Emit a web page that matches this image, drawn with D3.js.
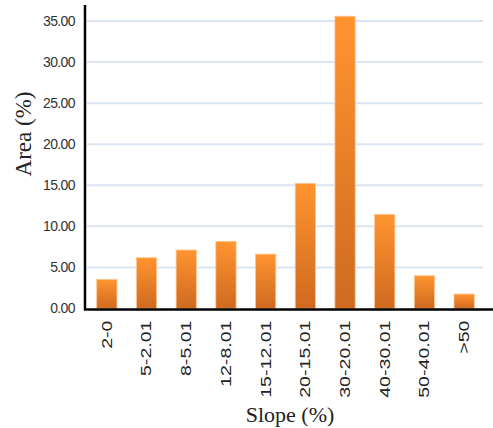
<!DOCTYPE html>
<html><head><meta charset="utf-8">
<script src="https://cdn.jsdelivr.net/npm/d3@7/dist/d3.min.js"></script>
<style>body{margin:0;background:#fff}svg{display:block}</style>
</head><body>
<svg id="c" width="493" height="428"></svg>
<script>
const categories = ["2-0","5-2.01","8-5.01","12-8.01","15-12.01","20-15.01","30-20.01","40-30.01","50-40.01",">50"];
const areaValues = [3.55, 6.18, 7.12, 8.18, 6.62, 15.23, 35.58, 11.46, 3.99, 1.76];
const yTicks = [0, 5, 10, 15, 20, 25, 30, 35];
const yTitle = "Area (%)";
const xTitle = "Slope (%)";

(function(){
const svg = d3.select("#c");
const mLeft = 85, mTop = 21, mBottom = 308.5;
const yMaxTick = 35;

const x = d3.scaleBand().domain(categories).range([87, 484]).paddingInner(0.49).paddingOuter(0.245);
const y = d3.scaleLinear().domain([0, yMaxTick]).range([mBottom, mTop]);

const defs = svg.append("defs");
const g = defs.append("linearGradient").attr("id","bg").attr("x1",0).attr("y1",0).attr("x2",0).attr("y2",1);
g.append("stop").attr("offset","0%").attr("stop-color","#ff9430");
g.append("stop").attr("offset","100%").attr("stop-color","#cf6a20");

// gridlines
svg.append("g").selectAll("line").data(yTicks.filter(d=>d>0)).join("line")
  .attr("x1", mLeft+2).attr("x2", 483)
  .attr("y1", d=>y(d)).attr("y2", d=>y(d))
  .attr("stroke","#d9e5f3").attr("stroke-width",2);

// bars
svg.append("g").selectAll("rect").data(areaValues).join("rect")
  .attr("x",(d,i)=>x(categories[i]))
  .attr("width", x.bandwidth())
  .attr("y", d=>y(d))
  .attr("height", d=>mBottom - y(d))
  .attr("fill","url(#bg)")
  .attr("stroke","#ffc58f").attr("stroke-width",0.8);

// y axis
const yAxis = d3.axisLeft(y).tickValues(yTicks).tickFormat(d3.format(".2f")).tickSize(0).tickPadding(10);
const ya = svg.append("g").attr("transform",`translate(${mLeft},0)`).call(yAxis);
ya.select(".domain").remove();
ya.selectAll("text").attr("font-family","'Liberation Sans', Arial, sans-serif").attr("font-size",14)
  .attr("letter-spacing","-0.6px").attr("fill","#333");

// x axis
const stretch = 1.4;
const xAxis = d3.axisBottom(x).tickSize(0).tickPadding(0);
const xa = svg.append("g").attr("transform",`translate(0,${mBottom})`).call(xAxis);
xa.select(".domain").remove();
xa.selectAll("text")
  .attr("font-family","'Liberation Sans', Arial, sans-serif").attr("font-size",14).attr("fill","#222")
  .attr("transform",`rotate(-90) scale(${stretch},1)`)
  .attr("text-anchor","end")
  .attr("x",-12/stretch).attr("y",0).attr("dy","0.35em");

// axis lines
svg.append("line").attr("x1",mLeft).attr("x2",mLeft).attr("y1",5).attr("y2",mBottom+1.5)
  .attr("stroke","#000").attr("stroke-width",2.5);
svg.append("line").attr("x1",mLeft-1).attr("x2",493).attr("y1",mBottom+1).attr("y2",mBottom+1)
  .attr("stroke","#000").attr("stroke-width",2.5);

// titles
svg.append("text").attr("transform",`translate(31,134) rotate(-90)`).attr("text-anchor","middle")
  .attr("font-family","'Liberation Serif','Times New Roman',serif").attr("font-size",23).attr("fill","#222")
  .text(yTitle);
svg.append("text").attr("x",290).attr("y",422).attr("text-anchor","middle")
  .attr("font-family","'Liberation Serif','Times New Roman',serif").attr("font-size",22).attr("fill","#222")
  .text(xTitle);
})();
</script>
</body></html>
